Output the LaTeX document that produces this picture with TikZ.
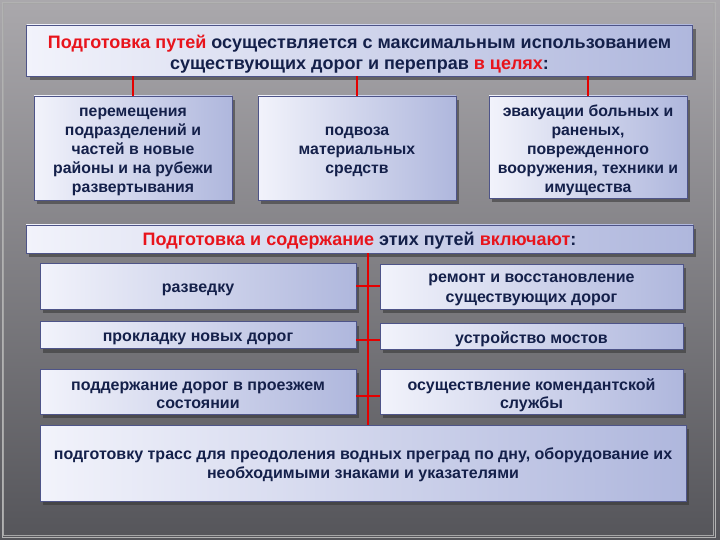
\documentclass[tikz,border=0pt]{standalone}
\usepackage{fontspec}
\setmainfont{Liberation Sans}
\usetikzlibrary{shadows}
\definecolor{navy}{HTML}{14204A}
\definecolor{redt}{HTML}{E8141C}
\definecolor{boxl}{HTML}{F2F3FB}
\definecolor{boxr}{HTML}{AFB7DD}
\definecolor{boxd}{HTML}{4E5488}
\definecolor{bgl}{HTML}{AAA8AC}
\definecolor{bgd}{HTML}{55555A}
\tikzset{
  box/.style={draw=boxd, line width=0.8pt, left color=boxl, right color=boxr,
    inner sep=0pt,
    drop shadow={shadow xshift=3pt, shadow yshift=-4pt, opacity=0.55, fill=black!80}},
  tx/.style={inner sep=0pt, align=center, text=navy, yshift=-3.5pt},
  link/.style={draw=red!90!black, line width=2.2pt}
}
\begin{document}
\begin{tikzpicture}[x=1pt,y=-1pt]
\useasboundingbox (0,0) rectangle (720,540);
\shade[shading angle=135, top color=bgl, bottom color=bgd] (0,0) rectangle (720,540);
\draw[black!35, line width=0.8pt] (3.5,3.5) rectangle (713.5,535.5);
\draw[gray!60, line width=0.6pt] (2,2) rectangle (715,537);
% boxes
\node[box, minimum width=666pt, minimum height=51pt] (title) at (359.5,50.5) {};
\node[box, minimum width=198pt, minimum height=104pt] (g1) at (133,148) {};
\node[box, minimum width=198pt, minimum height=104pt] (g2) at (357,148) {};
\node[box, minimum width=198pt, minimum height=102pt] (g3) at (588,147) {};
\node[box, minimum width=667pt, minimum height=28pt] (mid) at (359.5,239) {};
\node[box, minimum width=316pt, minimum height=46pt] (l1) at (198,286) {};
\node[box, minimum width=316pt, minimum height=27pt] (l2) at (198,335) {};
\node[box, minimum width=316pt, minimum height=45pt] (l3) at (198,391.5) {};
\node[box, minimum width=303pt, minimum height=45pt] (r1) at (531.5,286.5) {};
\node[box, minimum width=303pt, minimum height=26pt] (r2) at (531.5,336) {};
\node[box, minimum width=303pt, minimum height=45pt] (r3) at (531.5,391.5) {};
\node[box, minimum width=646pt, minimum height=76pt] (bot) at (363,463) {};
% texts
\node[tx, font=\bfseries\fontsize{18}{21}\selectfont] (titlet) at (title.center)
 {\textcolor{redt}{Подготовка путей} осуществляется с максимальным использованием\\
  существующих дорог и переправ \textcolor{redt}{в целях}:};
\node[tx, font=\bfseries\fontsize{15.8}{19}\selectfont] (g1t) at (g1.center)
 {перемещения\\подразделений и\\частей в новые\\районы и на рубежи\\развертывания};
\node[tx, font=\bfseries\fontsize{15.8}{19}\selectfont] (g2t) at (g2.center)
 {подвоза\\материальных\\средств};
\node[tx, font=\bfseries\fontsize{15.8}{19}\selectfont] (g3t) at (g3.center)
 {эвакуации больных и\\раненых,\\поврежденного\\вооружения, техники и\\имущества};
\node[tx, font=\bfseries\fontsize{18}{19}\selectfont, yshift=1.5pt] (midt) at (mid.center)
 {\textcolor{redt}{Подготовка и содержание} этих путей \textcolor{redt}{включают}:};
\node[tx, font=\bfseries\fontsize{16}{18}\selectfont] (l1t) at (l1.center) {разведку};
\node[tx, font=\bfseries\fontsize{16}{18}\selectfont] (l2t) at (l2.center) {прокладку новых дорог};
\node[tx, font=\bfseries\fontsize{16}{18}\selectfont] (l3t) at (l3.center) {поддержание дорог в проезжем\\состоянии};
\node[tx, font=\bfseries\fontsize{16}{20}\selectfont] (r1t) at (r1.center) {ремонт и восстановление\\существующих дорог};
\node[tx, font=\bfseries\fontsize{16}{18}\selectfont] (r2t) at (r2.center) {устройство мостов};
\node[tx, font=\bfseries\fontsize{16}{18}\selectfont] (r3t) at (r3.center) {осуществление комендантской\\службы};
\node[tx, font=\bfseries\fontsize{16}{19}\selectfont, yshift=1.5pt] (bott) at (bot.center)
 {подготовку трасс для преодоления водных преград по дну, оборудование их\\необходимыми знаками и указателями};
% connectors
\draw[link] (title.south -| g1.north) -- (g1.north);
\draw[link] (title.south -| g2.north) -- (g2.north);
\draw[link] (title.south -| g3.north) -- (g3.north);
\coordinate (s1) at (368,253);
\coordinate (s2) at (368,425);
\draw[link] (s1) -- (s2);
\draw[link, line width=1.8pt] (l1.east |- 0,286) -- (r1.west |- 0,286);
\draw[link, line width=1.8pt] (l2.east |- 0,340) -- (r2.west |- 0,340);
\draw[link, line width=1.8pt] (l3.east |- 0,396) -- (r3.west |- 0,396);
\end{tikzpicture}
\end{document}
